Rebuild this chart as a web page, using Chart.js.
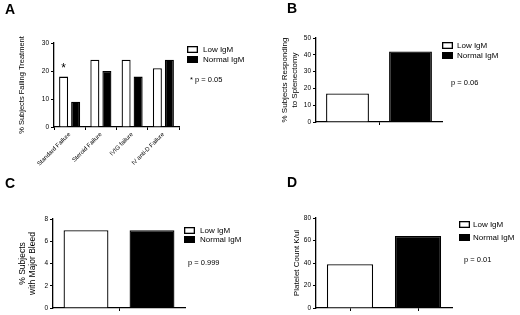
<!DOCTYPE html>
<html>
<head>
<meta charset="utf-8">
<script src="https://cdn.jsdelivr.net/npm/chart.js@4.4.0/dist/chart.umd.min.js"></script>
<style>
  body { margin:0; background:#fff; width:520px; height:315px; position:relative; overflow:hidden; }
  canvas { position:absolute; }
</style>
</head>
<body>

<canvas id="chartA" width="260" height="170" style="left:0;top:0"></canvas>
<canvas id="chartB" width="260" height="150" style="left:260px;top:0"></canvas>
<canvas id="chartC" width="260" height="155" style="left:0;top:160px"></canvas>
<canvas id="chartD" width="260" height="155" style="left:260px;top:160px"></canvas>

<script>
// ── Datos ───────────────────────────────────────────────
const groups        = ['Low IgM', 'Normal IgM'];
const treatCats     = ['Standard Failure', 'Steroid Failure', 'IVIG failure', 'IV anti-D Failure'];
const treatLow      = [18, 24, 24, 21];
const treatNormal   = [9, 20, 18, 24];
const splenVals     = [17, 42];   // % responding to splenectomy
const bleedVals     = [7, 7];     // % with major bleed
const plateletVals  = [39, 64];   // platelet count K/ul
const pValues       = ['* p = 0.05', 'p = 0.06', 'p = 0.999', 'p = 0.01'];
const panelLetters  = ['A', 'B', 'C', 'D'];

const FONT = '"Liberation Sans", Arial, sans-serif';
const BORDER = 1.3;

// ── Helpers de ejes ─────────────────────────────────────
function yAxis(max, step, width, title, titleSize, titlePad) {
  return {
    min: 0, max,
    ticks: { stepSize: step, color: '#000', font: { family: FONT, size: 6.5 }, padding: 2 },
    grid: { drawOnChartArea: false, tickLength: 3, color: '#000', lineWidth: 1 },
    border: { color: '#000', width: BORDER },
    title: {
      display: true, text: title, color: '#000',
      font: { family: FONT, size: titleSize, lineHeight: 1.15 },
      padding: { top: titlePad, bottom: 0 },
    },
    afterFit: s => { s.width = width; },
  };
}

function xAxis(height, middleOnly) {
  return {
    offset: true,
    ticks: { display: false },
    grid: {
      drawOnChartArea: false, tickLength: 3, lineWidth: 1,
      offset: middleOnly,
      // solo la marca del medio cuando la grilla va entre categorías
      color: ctx => (!middleOnly || ctx.index === 1) ? '#000' : 'rgba(0,0,0,0)',
    },
    border: { color: '#000', width: BORDER },
    afterFit: s => { s.height = height; },
  };
}

// ── Leyenda, letra del panel y p-valor (coordenadas de página) ──
function annotPlugin(a) {
  return {
    id: 'annot',
    afterDraw(chart) {
      const c = chart.ctx;
      const ox = chart.canvas.offsetLeft, oy = chart.canvas.offsetTop;
      c.save();
      c.translate(-ox, -oy);
      c.fillStyle = '#000';
      c.font = 'bold 14px ' + FONT;
      c.textBaseline = 'alphabetic';
      c.fillText(a.letter, a.lx, a.ly);

      c.lineWidth = BORDER;
      c.strokeStyle = '#000';
      c.font = '8px ' + FONT;
      c.textBaseline = 'middle';
      a.boxY.forEach((by, i) => {
        c.fillStyle = i === 0 ? '#fff' : '#000';
        c.fillRect(a.bx, by, 11, 7);
        c.strokeRect(a.bx + 0.65, by + 0.65, 9.7, 5.7);
        c.fillStyle = '#000';
        c.fillText(groups[i], a.tx, by + 4);
      });

      c.font = '7.5px ' + FONT;
      c.fillText(a.p, a.px, a.py);
      c.restore();
    },
  };
}

const baseOpts = {
  responsive: false,
  animation: false,
  devicePixelRatio: 1,
  events: [],
  plugins: { legend: { display: false }, tooltip: { enabled: false } },
};

function twoBarChart(id, values, yCfg, xCfg, padding, annot) {
  return new Chart(document.getElementById(id), {
    type: 'bar',
    data: {
      labels: groups,
      datasets: [{
        data: values,
        backgroundColor: ['#fff', '#000'],
        borderColor: '#000',
        borderWidth: BORDER,
        categoryPercentage: 0.68,
        barPercentage: 1,
      }],
    },
    options: { ...baseOpts, layout: { padding }, scales: { x: xCfg, y: yCfg } },
    plugins: [annotPlugin(annot)],
  });
}

// ── Asterisco sobre la primera barra (Standard Failure) ──
const starPlugin = {
  id: 'star',
  afterDatasetsDraw(chart) {
    const bar = chart.getDatasetMeta(0).data[0];
    const c = chart.ctx;
    c.save();
    c.fillStyle = '#000';
    c.font = '12px ' + FONT;
    c.textAlign = 'center';
    c.textBaseline = 'alphabetic';
    c.fillText('*', bar.x, bar.y - 5);
    c.restore();
  },
};

// ── Panel A ─────────────────────────────────────────────
new Chart(document.getElementById('chartA'), {
  type: 'bar',
  data: {
    labels: treatCats,
    datasets: [
      { label: groups[0], data: treatLow, backgroundColor: '#fff', borderColor: '#000', borderWidth: BORDER,
        categoryPercentage: 0.77, barPercentage: 0.75 },
      { label: groups[1], data: treatNormal, backgroundColor: '#000', borderColor: '#000', borderWidth: BORDER,
        categoryPercentage: 0.77, barPercentage: 0.75 },
    ],
  },
  options: {
    ...baseOpts,
    layout: { padding: { top: 43, right: 81, left: 0, bottom: 0 } },
    scales: {
      x: {
        offset: true,
        ticks: { color: '#000', font: { family: FONT, size: 6 }, minRotation: 45, maxRotation: 45, padding: 1, autoSkip: false },
        grid: { drawOnChartArea: false, tickLength: 3, color: '#000', lineWidth: 1 },
        border: { color: '#000', width: BORDER },
        afterFit: s => { s.height = 43; },
      },
      y: yAxis(30, 10, 54, '% Subjects Failing Treatment', 7.5, 17.5),
    },
  },
  plugins: [starPlugin, annotPlugin({
    letter: panelLetters[0], lx: 5, ly: 14,
    bx: 187, boxY: [46, 56], tx: 203,
    p: pValues[0], px: 190, py: 80,
  })],
});

// ── Paneles B, C, D ─────────────────────────────────────
twoBarChart('chartB', splenVals,
  yAxis(50, 10, 56, ['% Subjects Responding', 'to Splenectomy'], 8, 20.5),
  xAxis(28, true), { top: 38, right: 78, left: 0, bottom: 0 },
  { letter: panelLetters[1], lx: 287, ly: 13, bx: 442, boxY: [42, 52], tx: 457,
    p: pValues[1], px: 451, py: 83 });

twoBarChart('chartC', bleedVals,
  yAxis(8, 2, 53, ['% Subjects', 'with Major Bleed'], 8.5, 18),
  xAxis(7, true), { top: 59, right: 75, left: 0, bottom: 0 },
  { letter: panelLetters[2], lx: 5, ly: 188, bx: 184, boxY: [227, 236], tx: 200,
    p: pValues[2], px: 188, py: 263 });

twoBarChart('chartD', plateletVals,
  yAxis(80, 20, 56, 'Platelet Count K/ul', 8, 32),
  xAxis(7, false), { top: 58, right: 68, left: 0, bottom: 0 },
  { letter: panelLetters[3], lx: 287, ly: 187, bx: 459, boxY: [221, 234], tx: 473,
    p: pValues[3], px: 464, py: 260 });
</script>
</body>
</html>
